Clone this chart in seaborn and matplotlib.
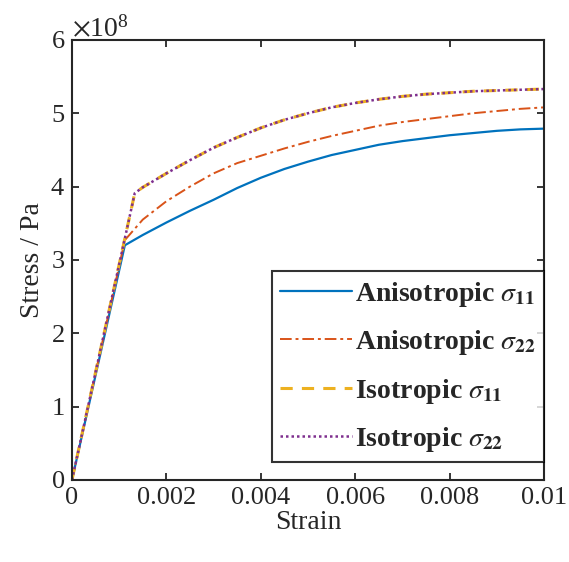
import matplotlib
matplotlib.use("Agg")
import matplotlib.pyplot as plt
import matplotlib.ticker as mticker
import seaborn as sns
import pandas as pd

# values, stress in units of 1e8 Pa
strain_aniso = [0, 0.00112, 0.0015, 0.002, 0.0025, 0.003, 0.0035, 0.004, 0.0045,
                0.005, 0.0055, 0.006, 0.0065, 0.007, 0.0075, 0.008, 0.0085, 0.009,
                0.0095, 0.01]
aniso_s11 = [0, 3.20, 3.34, 3.51, 3.67, 3.82, 3.98, 4.12, 4.24, 4.34, 4.43, 4.50,
             4.57, 4.62, 4.66, 4.70, 4.73, 4.76, 4.78, 4.79]
aniso_s22 = [0, 3.27, 3.55, 3.80, 4.00, 4.18, 4.32, 4.42, 4.52, 4.61, 4.69, 4.76,
             4.83, 4.88, 4.92, 4.96, 5.00, 5.03, 5.06, 5.08]
strain_iso = [0, 0.00133, 0.0015, 0.002, 0.0025, 0.003, 0.0035, 0.004, 0.0045,
              0.005, 0.0055, 0.006, 0.0065, 0.007, 0.0075, 0.008, 0.0085, 0.009,
              0.0095, 0.01]
iso_s11 = [0, 3.91, 3.99, 4.18, 4.36, 4.53, 4.67, 4.80, 4.91, 5.00, 5.08, 5.14,
           5.19, 5.23, 5.26, 5.28, 5.30, 5.31, 5.32, 5.33]
iso_s22 = iso_s11

labels = [r"Anisotropic $\sigma_{\mathbf{11}}$", r"Anisotropic $\sigma_{\mathbf{22}}$",
          r"Isotropic $\sigma_{\mathbf{11}}$", r"Isotropic $\sigma_{\mathbf{22}}$"]

sns.set_style("ticks")
plt.rcParams['font.family'] = ['Liberation Serif', 'DejaVu Serif']
plt.rcParams['mathtext.fontset'] = 'stix'

fig = plt.figure(figsize=(5.69, 5.62), dpi=100)
ax = fig.add_axes([0.1265, 0.146, 0.8295, 0.783])

series = [
    (strain_aniso, aniso_s11, "#0072BD", "-", 1.6),
    (strain_aniso, aniso_s22, "#D95319", (0, (6, 2, 1.5, 2)), 1.4),
    (strain_iso, iso_s11, "#EDB120", (0, (4, 3)), 2.2),
    (strain_iso, iso_s22, "#7E2F8E", (0, (1, 1.2)), 1.8),
]
for (x, y, c, ls, lw), lab in zip(series, labels):
    df = pd.DataFrame({"strain": x, "stress": [v * 1e8 for v in y]})
    sns.lineplot(data=df, x="strain", y="stress", ax=ax, color=c,
                 linestyle=ls, linewidth=lw, label=lab)

ax.set_xlim(0, 0.01)
ax.set_ylim(0, 6e8)
ax.set_xticks([0, 0.002, 0.004, 0.006, 0.008, 0.01])
ax.xaxis.set_major_formatter(mticker.FuncFormatter(lambda v, p: "%g" % v))
ax.set_yticks([i * 1e8 for i in range(7)])
ax.ticklabel_format(axis='y', style='sci', scilimits=(0, 0), useMathText=True)
ax.yaxis.get_offset_text().set_fontsize(20)

ax.tick_params(direction='in', top=True, right=True, labelsize=19,
               length=5, width=1.3, colors='#262626', pad=5)
for s in ax.spines.values():
    s.set_linewidth(1.5)
    s.set_color('#262626')

ax.set_xlabel("Strain", fontsize=20, labelpad=1)
ax.set_ylabel("Stress / Pa", fontsize=20, labelpad=4)

leg = ax.legend(loc='lower right', bbox_to_anchor=(1.0, 0.04),
                prop={'weight': 'bold', 'size': 20}, frameon=True,
                fancybox=False, edgecolor='black', handlelength=2.6,
                handletextpad=0.1, borderpad=0.3, labelspacing=0.7,
                borderaxespad=0)
leg.get_frame().set_linewidth(1.5)

fig.savefig("out.png", dpi=100)
